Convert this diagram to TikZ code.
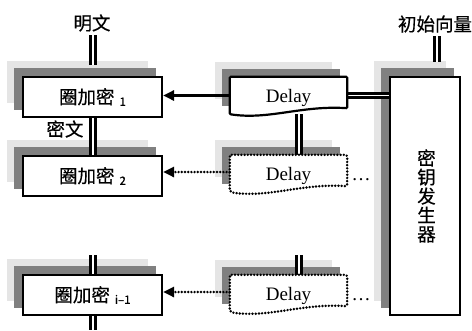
\documentclass[tikz,border=0pt]{standalone}
\usepackage{fontspec}
\setmainfont{Liberation Serif}
\newfontfamily\cjk{Noto Sans CJK SC}[UprightFeatures={FakeBold=0.5}]
\usetikzlibrary{arrows.meta,calc}
\pgfdeclarelayer{bg}
\pgfdeclarelayer{mid}
\pgfsetlayers{bg,mid,main}
\definecolor{lsh}{gray}{0.90}
\definecolor{dsh}{gray}{0.50}
\newcommand\shadowpair[1]{%
  \fill[lsh] ($(#1.north west)+(-15,-15)$) rectangle ($(#1.south east)+(-15,-15)$);
  \fill[dsh] ($(#1.north west)+(-7.5,-8)$) rectangle ($(#1.south east)+(-7.5,-8)$);}
\newcommand\dlshape[2]{%
  \draw[#2] (#1.north west) -- (#1.north east) -- ($(#1.south east)+(0,-6)$)
    .. controls ($(#1.south east)+(-46,-9)$) and ($(#1.south west)+(39,6)$) .. (#1.south west) -- cycle;}
\newcommand\sub[1]{\hspace{5pt}\raisebox{-2pt}{\fontsize{11.5}{11.5}\selectfont #1}}
\begin{document}
\begin{tikzpicture}[x=1pt,y=-1pt,
  box/.style={draw, line width=2.2pt, fill=white, minimum width=139pt, minimum height=40pt,
    inner sep=0pt, font=\cjk\fontsize{18.5}{18.5}\selectfont},
  keybox/.style={draw, line width=2.2pt, fill=white, minimum width=70pt, minimum height=238pt,
    inner sep=0pt, align=center, font=\cjk\fontsize{18.5}{19}\selectfont},
  dl/.style={minimum width=117pt, minimum height=37pt, inner sep=0pt, text height=13pt,
    text depth=0pt, font=\fontsize{19}{19}\selectfont},
  lbl/.style={font=\cjk\fontsize{18.5}{18.5}\selectfont},
  dlsolid/.style={line width=2.2pt, fill=white, rounded corners=1pt},
  dldot/.style={line width=2.7pt, fill=white, line cap=round, dash pattern=on 0pt off 3.2pt, rounded corners=2pt},
  dbl/.style={double=white, double distance=1.6pt, line width=3.2pt},
  dblh/.style={double=white, double distance=1.5pt, line width=2.7pt},
  arr/.style={line width=3pt, -{Triangle[length=11pt,width=10pt]}},
  darr/.style={line width=2.7pt, line cap=round, dash pattern=on 0pt off 3.2pt, -{Triangle[length=11pt,width=10pt]}},
  dots/.style={font=\fontsize{19}{19}\selectfont, anchor=base, inner sep=0pt}
]
\useasboundingbox (0,0) rectangle (472,330);
% main blocks
\node[box] (b1) at (92.5,97) {圈加密\sub{1}};
\node[box] (b2) at (92.5,176) {圈加密\sub{2}};
\node[box] (b3) at (92.5,295) {圈加密\sub{\textit{i}\textendash 1}};
\node[keybox] (k) at (425,196) {\hspace{3pt}密\\\hspace{3pt}钥\\\hspace{3pt}发\\\hspace{3pt}生\\\hspace{3pt}器};
\node[dl] (d1) at (288.5,95.5) {Delay};
\node[dl] (d2) at (288.5,173.5) {Delay};
\node[dl] (d3) at (288.5,293.5) {Delay};
% labels
\node[lbl] (m) at (92,23) {明文};
\node[lbl] (c) at (65,129) {密文};
\node[lbl] (iv) at (435,24) {初始向量};
\node[dots] (e2) at (361,180) {\textellipsis};
\node[dots] (e3) at (361,300) {\textellipsis};
\coordinate (c1) at (93,65);
\coordinate (c2) at (437,62);
\coordinate (c3) at (299,255);
\coordinate (c4) at (93,255);
\coordinate (c5) at (93,330);
% shadows and double lines
\begin{pgfonlayer}{bg}
  \shadowpair{b1}\shadowpair{b2}\shadowpair{b3}\shadowpair{k}
  \shadowpair{d1}\shadowpair{d2}\shadowpair{d3}
  \draw[dbl] (m.south -| c1) -- (c1);
  \draw[dbl] (iv.south -| c2) -- (c2);
  \draw[dbl] (b1.south -| c1) -- (b2.north -| c1);
  \draw[dbl] (c4) -- (c4 |- b3.north);
  \draw[dbl] (c5 |- b3.south) -- (c5);
  \draw[dbl] (d1.south -| c3) -- (d2.north -| c3);
  \draw[dbl] (c3) -- (c3 |- d3.north);
  \draw[dblh] (d1.east) -- (d1.east -| k.west);
\end{pgfonlayer}
\begin{pgfonlayer}{mid}
  \dlshape{d1}{dlsolid}
  \dlshape{d2}{dldot}
  \dlshape{d3}{dldot}
\end{pgfonlayer}
% arrows
\draw[arr] (d1.west) -- (d1.west -| b1.east);
\draw[darr] ([yshift=1.5pt]d2.west) -- ([yshift=1.5pt]d2.west -| b2.east);
\draw[darr] ([yshift=1.5pt]d3.west) -- ([yshift=1.5pt]d3.west -| b3.east);
\end{tikzpicture}
\end{document}
